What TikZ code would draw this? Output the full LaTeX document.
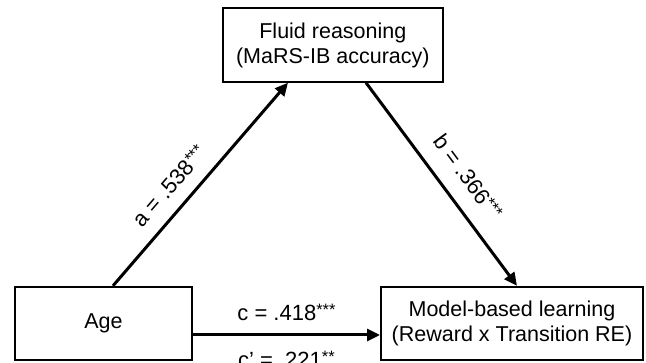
\documentclass[tikz,border=0pt]{standalone}
\usepackage{fontspec}
\setmainfont{Liberation Sans}
\usepackage{tikz}
\usetikzlibrary{arrows.meta, positioning}

\newcommand{\sig}[1]{\raisebox{4.5pt}{\fontsize{16.5}{16.5}\selectfont #1}}

\tikzset{
  varbox/.style={draw, line width=2pt, inner sep=0pt, align=center,
    minimum height=73.4pt, font=\fontsize{21.5}{25}\selectfont},
  patharrow/.style={line width=3pt, -{Triangle[length=13pt, width=12pt]}},
  coeflabel/.style={inner sep=0pt, font=\fontsize{22}{25}\selectfont}
}

\begin{document}
\begin{tikzpicture}[x=1pt, y=-1pt]
  \fill[white] (0,0) rectangle (646,363);
  \useasboundingbox (0,0) rectangle (646,363);
  \clip (0,0) rectangle (646,363);

  % Variables
  \node[varbox, minimum width=220.3pt] (fluid) at (332.85,45) {Fluid reasoning\\(MaRS-IB accuracy)};
  \node[varbox, minimum width=177pt] (age) at (103.5,323.5) {Age};
  \node[varbox, minimum width=262pt] (mbl) at (512,323.5) {Model-based learning\\(Reward x Transition RE)};

  % Paths a and b
  \draw[patharrow] ([xshift=9.5pt]age.north) -- ([xshift=-44.85pt]fluid.south)
    node[coeflabel, pos=0.42, sloped, above=13pt] (alab) {a = .538\sig{***}};
  \draw[patharrow] ([xshift=33.15pt]fluid.south) -- ([xshift=5pt]mbl.north)
    node[coeflabel, pos=0.54, sloped, above=16pt] (blab) {b = .366\sig{***}};

  % Path c
  \draw[patharrow] ([yshift=-11.5pt]age.east) -- ([yshift=-11.5pt]mbl.west)
    node[coeflabel, midway, above=13pt] (clab) {c = .418\sig{***}}
    node[coeflabel, midway, below=15pt] (cplab) {c’ = .221\sig{**}};
\end{tikzpicture}
\end{document}
